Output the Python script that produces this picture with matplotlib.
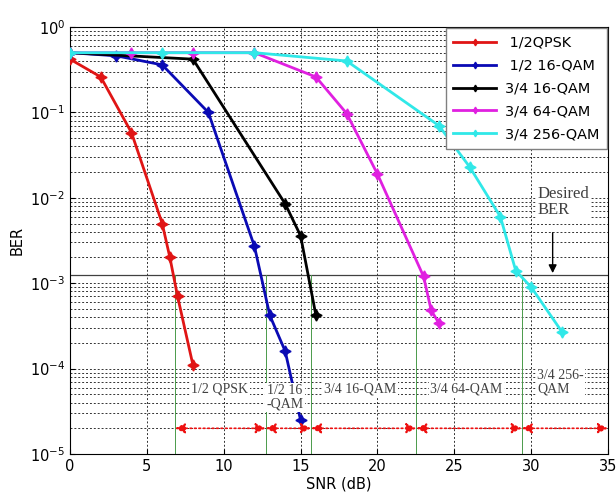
import matplotlib.pyplot as plt
import numpy as np

# BER curves
snr_qpsk12 = [0, 2, 4, 6, 6.5, 7, 8]
ber_qpsk12 = [0.42, 0.26, 0.058, 0.005, 0.002, 7e-4, 1.1e-4]

snr_16qam12 = [0, 3, 6, 9, 12, 13, 14, 15]
ber_16qam12 = [0.5, 0.46, 0.36, 0.1, 2.7e-3, 4.2e-4, 1.6e-4, 2.5e-5]

snr_16qam34 = [0, 8, 14, 15, 16]
ber_16qam34 = [0.5, 0.42, 8.5e-3, 3.6e-3, 4.2e-4]

snr_64qam34 = [0, 4, 8, 12, 16, 18, 20, 23, 23.5, 24]
ber_64qam34 = [0.5, 0.5, 0.5, 0.5, 0.26, 0.097, 0.019, 1.2e-3, 4.8e-4, 3.4e-4]

snr_256qam34 = [0, 6, 12, 18, 24, 26, 28, 29, 30, 32]
ber_256qam34 = [0.5, 0.5, 0.5, 0.4, 0.07, 0.023, 0.006, 1.4e-3, 9e-4, 2.7e-4]

legend_labels = [" 1/2QPSK", " 1/2 16-QAM", "3/4 16-QAM", "3/4 64-QAM", "3/4 256-QAM"]
colors = ["#e01515", "#0a0ab4", "#000000", "#e020e0", "#30e8e8"]

desired_ber = 1.25e-3
# switching thresholds (where the curves cross the desired BER)
thresholds = [6.83, 12.73, 15.68, 22.53, 29.39, 35]
region_labels = ["1/2 QPSK", "1/2 16\n-QAM", "3/4 16-QAM", "3/4 64-QAM", "3/4 256-\nQAM"]
arrow_ber = 2e-5

fig = plt.figure(figsize=(6.16, 4.97), dpi=100)
ax = fig.add_axes([0.1136, 0.0865, 0.8734, 0.8592])

series = [(snr_qpsk12, ber_qpsk12), (snr_16qam12, ber_16qam12), (snr_16qam34, ber_16qam34),
          (snr_64qam34, ber_64qam34), (snr_256qam34, ber_256qam34)]
for (x, y), c, lab in zip(series, colors, legend_labels):
    ax.semilogy(x, y, '-', color=c, lw=2, marker=(4, 1, 0), ms=8, label=lab, zorder=3)

ax.set_xlim(0, 35)
ax.set_ylim(1e-5, 1)
ax.set_xticks(np.arange(0, 36, 5))
ax.grid(True, which='major', color='k', ls=(0, (2, 2)), lw=0.7, alpha=0.8)
ax.grid(True, which='minor', axis='y', color='k', ls=(0, (2, 2)), lw=0.7, alpha=0.8)
ax.tick_params(which='both', direction='in', labelsize=10.5)
ax.tick_params(which='minor', length=0)
ax.set_xlabel("SNR (dB)", fontsize=10.5, labelpad=2)
ax.set_ylabel("BER", fontsize=10.5)

# desired BER line
ax.axhline(desired_ber, color='#404040', lw=0.9, zorder=2)

# vertical threshold lines
for t in thresholds[:-1]:
    ax.plot([t, t], [1e-5, desired_ber], color='#4a9a4a', lw=0.7, zorder=2)

# double-headed arrows between thresholds
for a, b in zip(thresholds[:-1], thresholds[1:]):
    ax.annotate("", xy=(b, arrow_ber), xytext=(a, arrow_ber),
                arrowprops=dict(arrowstyle='<|-|>', color='#ee1010', lw=1.2, ls=':',
                                mutation_scale=15, shrinkA=0, shrinkB=0), zorder=4)

tbox = dict(facecolor='white', edgecolor='none', pad=1)
tkw = dict(family='Liberation Serif', fontsize=10, color='#404040', zorder=5)
ax.text(9.75, 5.7e-5, region_labels[0], ha='center', va='center', bbox=tbox, **tkw)
ax.text(12.8, 4.6e-5, region_labels[1], ha='left', va='center', bbox=tbox, linespacing=1.05, **tkw)
ax.text(18.9, 5.8e-5, region_labels[2], ha='center', va='center', bbox=tbox, **tkw)
ax.text(25.8, 5.8e-5, region_labels[3], ha='center', va='center', bbox=tbox, **tkw)
ax.text(30.4, 7.0e-5, region_labels[4], ha='left', va='center', bbox=tbox, linespacing=1.05, **tkw)

ax.text(30.4, 8.9e-3, "Desired\nBER", ha='left', va='center', bbox=tbox, linespacing=1.0,
        family='Liberation Serif', fontsize=12, color='#404040', zorder=5)
ax.annotate("", xy=(31.4, desired_ber * 1.05), xytext=(31.4, 3.9e-3),
            arrowprops=dict(arrowstyle='-|>', color='k', lw=1, mutation_scale=12,
                            shrinkA=0, shrinkB=0), zorder=5)

leg = ax.legend(loc='upper right', fontsize=10.4, fancybox=False, framealpha=1,
                edgecolor='#808080', borderaxespad=0.1, handlelength=3.0, labelspacing=0.62,
                markerscale=0.6, borderpad=0.5, handletextpad=0.6)
leg.get_frame().set_linewidth(1)
leg.set_zorder(6)

fig.savefig("out.png", dpi=100)
